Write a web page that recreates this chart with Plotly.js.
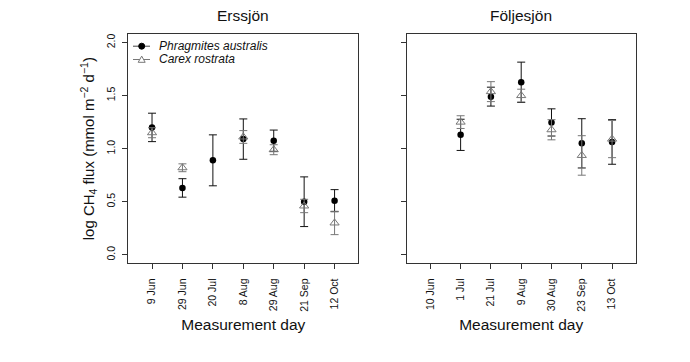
<!DOCTYPE html>
<html><head><meta charset="utf-8">
<script src="https://cdn.plot.ly/plotly-3.0.1.min.js"></script>
<style>html,body{margin:0;padding:0;background:#fff;} #chart{width:690px;height:362px;}</style>
</head><body><div id="chart"></div>
<script>
// ---- data ----
const daysErssjon = ['9 Jun','29 Jun','20 Jul','8 Aug','29 Aug','21 Sep','12 Oct'];
const phragErssjon = [1.20, 0.63, 0.89, 1.09, 1.075, 0.50, 0.51];
const phragErssjonErr = [0.134, 0.087, 0.24, 0.19, 0.10, 0.234, 0.104];
const carexErssjon = [1.15, 0.82, null, 1.11, 0.99, 0.46, 0.30];
const carexErssjonErr = [0.047, 0.037, null, 0.06, 0.047, 0.063, 0.11];

const daysFoljesjon = ['10 Jun','1 Jul','21 Jul','9 Aug','30 Aug','23 Sep','13 Oct'];
const phragFoljesjon = [null, 1.13, 1.49, 1.625, 1.247, 1.05, 1.063];
const phragFoljesjonErr = [null, 0.147, 0.089, 0.19, 0.128, 0.232, 0.21];
const carexFoljesjon = [null, 1.25, 1.537, 1.50, 1.178, 0.936, 1.09];
const carexFoljesjonErr = [null, 0.06, 0.094, 0.06, 0.095, 0.186, 0.175];

const yTicks = [0, 0.5, 1.0, 1.5, 2.0];
const seriesNames = ['Phragmites australis', 'Carex rostrata'];
const panelTitles = ['Erssjön', 'Följesjön'];

// ---- layout helpers ----
const W = 690, H = 362, M = {l: 70, r: 40, t: 20, b: 80};
const px = p => (p - M.l) / (W - M.l - M.r);
const py = p => (H - M.b - p) / (H - M.t - M.b);
const FONT = 'Liberation Sans, Arial, Helvetica, sans-serif';
const AX = '#333';
const PHR_COL = '#000';
const CAR_COL = '#777';

function phrTrace(x, y, e, xa, ya) {
  return {type: 'scatter', mode: 'markers', x: x, y: y, xaxis: xa, yaxis: ya,
    name: seriesNames[0], showlegend: false, cliponaxis: false,
    marker: {symbol: 'circle', size: 6.5, color: PHR_COL},
    error_y: {type: 'data', array: e, visible: true, color: '#111', thickness: 1, width: 4}};
}
function carTrace(x, y, e, xa, ya) {
  return {type: 'scatter', mode: 'markers', x: x, y: y, xaxis: xa, yaxis: ya,
    name: seriesNames[1], showlegend: false, cliponaxis: false,
    marker: {symbol: 'triangle-up-open', size: 8, color: CAR_COL, line: {width: 1, color: CAR_COL}},
    error_y: {type: 'data', array: e, visible: true, color: CAR_COL, thickness: 1, width: 4}};
}

const data = [
  phrTrace(daysErssjon, phragErssjon, phragErssjonErr, 'x', 'y'),
  carTrace(daysErssjon, carexErssjon, carexErssjonErr, 'x', 'y'),
  phrTrace(daysFoljesjon, phragFoljesjon, phragFoljesjonErr, 'x2', 'y2'),
  carTrace(daysFoljesjon, carexFoljesjon, carexFoljesjonErr, 'x2', 'y2')
];

function xAxis(dom, cats, anchor) {
  return {domain: dom, anchor: anchor, type: 'category', categoryorder: 'array', categoryarray: cats,
    range: [-0.78, 6.78], showline: true, mirror: true, linecolor: AX, linewidth: 1,
    ticks: 'outside', ticklen: 5, tickcolor: AX, tickwidth: 1, tickangle: -90,
    ticklabelstandoff: 5,
    tickfont: {family: FONT, size: 10.5, color: '#111'}, showgrid: false, zeroline: false,
    title: {text: 'Measurement day', font: {family: FONT, size: 15.5, color: '#111'}, standoff: 8},
    automargin: false, fixedrange: true};
}
function yAxis(anchor, labels) {
  const a = {domain: [py(263.3), py(34)], anchor: anchor, range: [-0.08, 2.08],
    tickmode: 'array', tickvals: yTicks, tickformat: '.1f', tickangle: -90,
    showline: true, mirror: true, linecolor: AX, linewidth: 1,
    ticks: 'outside', ticklen: 5, tickcolor: AX, tickwidth: 1,
    showticklabels: labels, ticklabelstandoff: 3,
    tickfont: {family: FONT, size: 10.5, color: '#111'}, showgrid: false, zeroline: false,
    automargin: false, fixedrange: true};
  if (labels) {
    a.title = {text: 'log CH<sub>4</sub> flux (mmol m<sup>\u22122</sup> d<sup>\u22121</sup>)',
      font: {family: FONT, size: 15, color: '#111'}, standoff: 6};
  }
  return a;
}

const leftDom = [px(128.3), px(358.3)];
const rightDom = [px(406.7), px(635.7)];

// manual legend (inside left panel, top-left)
const lgX0 = 133, lgX1 = 150, lgMx = 141.7, lgY = [46.2, 59.5];
const shapes = [
  {type: 'line', xref: 'paper', yref: 'paper', x0: px(lgX0), x1: px(lgX1), y0: py(lgY[0]), y1: py(lgY[0]), line: {color: '#444', width: 1}},
  {type: 'circle', xref: 'paper', yref: 'paper', x0: px(lgMx - 3), x1: px(lgMx + 3), y0: py(lgY[0] + 3), y1: py(lgY[0] - 3), fillcolor: PHR_COL, line: {color: PHR_COL, width: 1}},
  {type: 'line', xref: 'paper', yref: 'paper', x0: px(lgX0), x1: px(lgX1), y0: py(lgY[1]), y1: py(lgY[1]), line: {color: CAR_COL, width: 1}},
  {type: 'path', xref: 'paper', yref: 'paper',
    path: 'M ' + px(lgMx - 3.5) + ' ' + py(lgY[1] + 2.8) + ' L ' + px(lgMx + 3.5) + ' ' + py(lgY[1] + 2.8) + ' L ' + px(lgMx) + ' ' + py(lgY[1] - 3.4) + ' Z',
    fillcolor: '#fff', line: {color: CAR_COL, width: 1}}
];

const annotations = [
  {text: panelTitles[0], xref: 'paper', yref: 'paper', x: (leftDom[0] + leftDom[1]) / 2, y: py(15.5), showarrow: false,
    xanchor: 'center', yanchor: 'middle', font: {family: FONT, size: 15.5, color: '#111'}},
  {text: panelTitles[1], xref: 'paper', yref: 'paper', x: (rightDom[0] + rightDom[1]) / 2, y: py(15.5), showarrow: false,
    xanchor: 'center', yanchor: 'middle', font: {family: FONT, size: 15.5, color: '#111'}},
  {text: '<i>' + seriesNames[0] + '</i>', xref: 'paper', yref: 'paper', x: px(158), y: py(lgY[0]), showarrow: false,
    xanchor: 'left', yanchor: 'middle', borderpad: 0, font: {family: FONT, size: 12, color: '#111'}},
  {text: '<i>' + seriesNames[1] + '</i>', xref: 'paper', yref: 'paper', x: px(158), y: py(lgY[1]), showarrow: false,
    xanchor: 'left', yanchor: 'middle', borderpad: 0, font: {family: FONT, size: 12, color: '#111'}}
];

const layout = {
  width: W, height: H, margin: M, paper_bgcolor: '#fff', plot_bgcolor: '#fff',
  showlegend: false, font: {family: FONT, color: '#111'},
  xaxis: xAxis(leftDom, daysErssjon, 'y'),
  yaxis: yAxis('x', true),
  xaxis2: xAxis(rightDom, daysFoljesjon, 'y2'),
  yaxis2: yAxis('x2', false),
  shapes: shapes, annotations: annotations
};

Plotly.newPlot('chart', data, layout, {staticPlot: true, displayModeBar: false});
</script>
</body></html>
